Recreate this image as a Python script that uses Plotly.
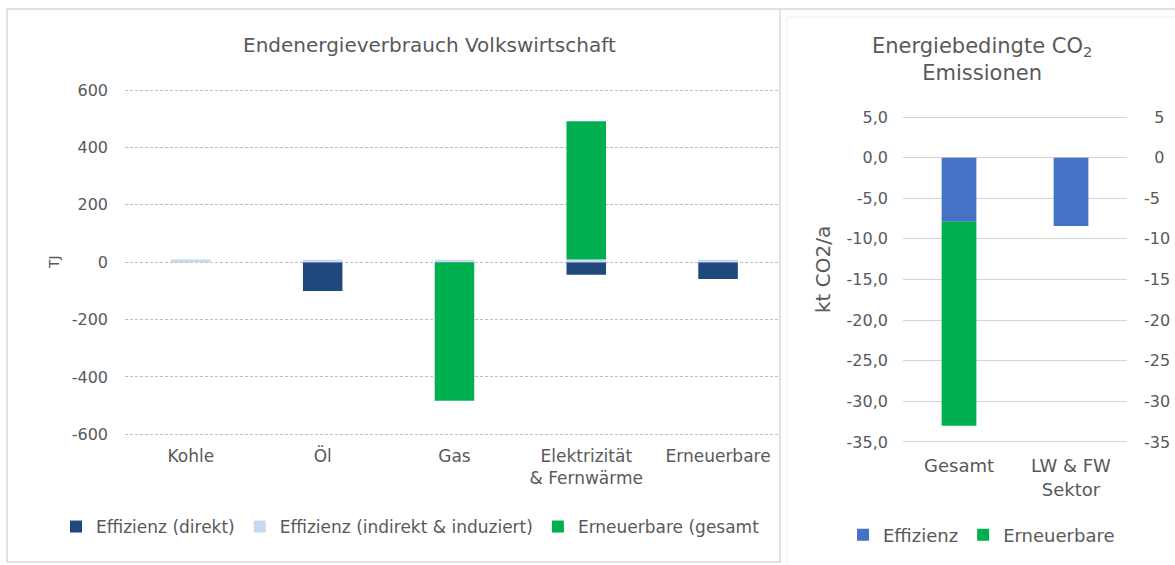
import plotly.graph_objects as go

W, H = 1175, 565


def px(x):
    return x / W


def py(y):
    return 1 - y / H


# ---------------- data ----------------
categories = ["Kohle", "Öl", "Gas", "Elektrizität<br>& Fernwärme", "Erneuerbare"]
eff_direkt = [0, -100, 0, -44, -58]
eff_indirekt = [10, 9, 9, 10, 9]
erneuerbare_gesamt = [0, 0, -483, 482, 0]

left_tickvals = [600, 400, 200, 0, -200, -400, -600]
left_ticktext = ["600", "400", "200", "0", "-200", "-400", "-600"]

co2_categories = ["Gesamt", "LW & FW<br>Sektor"]
co2_effizienz = [-7.9, -8.4]
co2_erneuerbare = [-25.1, 0]

co2_tickvals = [5, 0, -5, -10, -15, -20, -25, -30, -35]
co2_ticktext_left = ["5,0", "0,0", "-5,0", "-10,0", "-15,0", "-20,0", "-25,0", "-30,0", "-35,0"]
co2_ticktext_right = ["\u20075", "\u20070", "-5", "-10", "-15", "-20", "-25", "-30", "-35"]

# ---------------- style ----------------
FONT = "DejaVu Sans"
TXT = "#595959"
DARK_BLUE = "#1F497D"
LIGHT_BLUE = "#C6D9F1"
GREEN = "#00B050"
BLUE = "#4472C4"

fig = go.Figure()

fig.add_trace(go.Bar(x=categories, y=eff_direkt, name="Effizienz (direkt)",
                     marker=dict(color=DARK_BLUE, line=dict(width=0)), width=0.3,
                     xaxis="x", yaxis="y", legend="legend"))
fig.add_trace(go.Bar(x=categories, y=eff_indirekt, name="Effizienz (indirekt & induziert)",
                     marker=dict(color=LIGHT_BLUE, line=dict(width=0)), width=0.3,
                     xaxis="x", yaxis="y", legend="legend"))
fig.add_trace(go.Bar(x=categories, y=erneuerbare_gesamt, name="Erneuerbare (gesamt",
                     marker=dict(color=GREEN, line=dict(width=0)), width=0.3,
                     xaxis="x", yaxis="y", legend="legend"))

fig.add_trace(go.Bar(x=co2_categories, y=co2_effizienz, name="Effizienz",
                     marker=dict(color=BLUE, line=dict(width=0)), width=0.31,
                     xaxis="x2", yaxis="y2", legend="legend2"))
fig.add_trace(go.Bar(x=co2_categories, y=co2_erneuerbare, name="Erneuerbare",
                     marker=dict(color=GREEN, line=dict(width=0)), width=0.31,
                     xaxis="x2", yaxis="y2", legend="legend2"))
# invisible companion trace so the secondary (right) axis is drawn
fig.add_trace(go.Scatter(x=co2_categories, y=[None, None], mode="markers",
                         showlegend=False, hoverinfo="skip",
                         xaxis="x2", yaxis="y3"))

grid_left = dict(showgrid=True, gridcolor="#BFBFBF", griddash="3px,2px", gridwidth=1)

fig.update_layout(
    width=W, height=H, autosize=False,
    margin=dict(l=0, r=0, t=0, b=0, autoexpand=False),
    paper_bgcolor="white", plot_bgcolor="rgba(0,0,0,0)",
    barmode="relative",
    font=dict(family=FONT, color=TXT, size=15),
    xaxis=dict(domain=[px(125), px(780)], range=[-0.5, 4.47], anchor="y",
               showline=False, ticks="", showgrid=False, zeroline=False,
               tickfont=dict(size=17, color=TXT), ticklabelstandoff=8),
    yaxis=dict(domain=[py(435.5), py(89)], range=[-604, 604], anchor="x",
               tickvals=left_tickvals, ticktext=left_ticktext,
               tickfont=dict(size=16, color=TXT), ticklabelstandoff=16,
               zeroline=False, showline=False, ticks="", **grid_left),
    xaxis2=dict(domain=[px(903), px(1127)], range=[-0.5, 1.5], anchor="y2",
                showline=False, ticks="", showgrid=False, zeroline=False,
                tickfont=dict(size=18, color=TXT), ticklabelstandoff=9),
    yaxis2=dict(domain=[py(444.4), py(114.6)], range=[-35.3, 5.3], anchor="x2",
                tickvals=co2_tickvals, ticktext=co2_ticktext_left,
                tickfont=dict(size=16, color=TXT), ticklabelstandoff=14,
                showgrid=True, gridcolor="#D4D4D4", gridwidth=1,
                zeroline=False, showline=False, ticks=""),
    yaxis3=dict(domain=[py(444.4), py(114.6)], range=[-35.3, 5.3], anchor="x2",
                overlaying="y2", side="right",
                tickvals=co2_tickvals, ticktext=co2_ticktext_right,
                tickfont=dict(size=16, color=TXT), ticklabelstandoff=16,
                showgrid=False, zeroline=False, showline=False, ticks=""),
    legend=dict(orientation="h", x=px(56), xanchor="left", y=py(527), yanchor="middle",
                font=dict(size=17, color=TXT), bgcolor="rgba(0,0,0,0)",
                traceorder="normal"),
    legend2=dict(orientation="h", x=px(843), xanchor="left", y=py(535), yanchor="middle",
                 font=dict(size=18, color=TXT), bgcolor="rgba(0,0,0,0)",
                 traceorder="normal"),
    showlegend=True,
)

# titles and axis titles
fig.add_annotation(text="Endenergieverbrauch Volkswirtschaft", xref="paper", yref="paper",
                   x=px(430), y=py(45), showarrow=False, xanchor="center", yanchor="middle",
                   font=dict(size=20, color=TXT))
fig.add_annotation(text="Energiebedingte CO<sub>2</sub><br>Emissionen", xref="paper", yref="paper",
                   x=px(982), y=py(60), showarrow=False, xanchor="center", yanchor="middle",
                   font=dict(size=21, color=TXT))
fig.add_annotation(text="TJ", xref="paper", yref="paper", textangle=-90,
                   x=px(54), y=py(262), showarrow=False, xanchor="center", yanchor="middle",
                   font=dict(size=14, color=TXT))
fig.add_annotation(text="kt CO2/a", xref="paper", yref="paper", textangle=-90,
                   x=px(823), y=py(270), showarrow=False, xanchor="center", yanchor="middle",
                   font=dict(size=20, color=TXT))

# panel borders
BORDER = "#D9D9D9"
fig.add_shape(type="rect", xref="paper", yref="paper", layer="below",
              x0=px(7), x1=px(780), y0=py(562), y1=py(9),
              line=dict(color=BORDER, width=1.5), fillcolor="rgba(0,0,0,0)")
fig.add_shape(type="line", xref="paper", yref="paper", layer="below",
              x0=px(780), x1=px(1175), y0=py(9), y1=py(9),
              line=dict(color=BORDER, width=1.5))
fig.add_shape(type="line", xref="paper", yref="paper", layer="below",
              x0=px(787), x1=px(787), y0=py(565), y1=py(17),
              line=dict(color="#EFEFEF", width=1))
fig.add_shape(type="line", xref="paper", yref="paper", layer="below",
              x0=px(787), x1=px(1175), y0=py(17), y1=py(17),
              line=dict(color="#EFEFEF", width=1))

fig.write_html("out.html", config={"displayModeBar": False},
               post_script="document.body.style.margin='0';")
